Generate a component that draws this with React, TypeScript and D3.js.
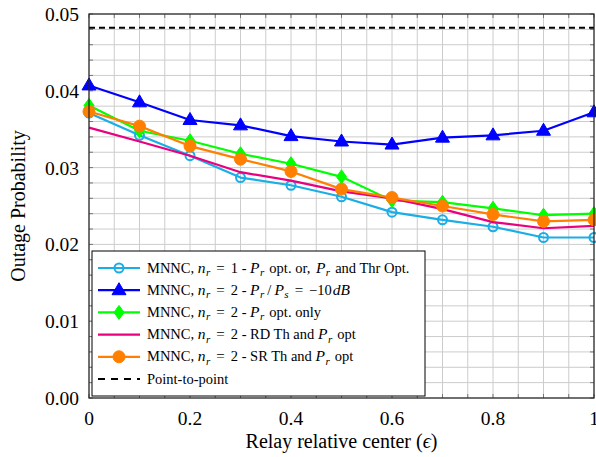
import React from "react";
import * as d3 from "d3";

const xs = [0, 0.1, 0.2, 0.3, 0.4, 0.5, 0.6, 0.7, 0.8, 0.9, 1.0];
const nr1PrOpt = [0.0371, 0.0342, 0.03155, 0.0287, 0.0277, 0.0262, 0.0242, 0.0232, 0.0223, 0.0209, 0.0209];
const nr2Fixed = [0.0407, 0.0385, 0.0362, 0.0355, 0.0341, 0.0334, 0.0330, 0.0339, 0.0342, 0.0348, 0.0372];
const nr2PrOnly = [0.0381, 0.0348, 0.0335, 0.0318, 0.0305, 0.0288, 0.0257, 0.0255, 0.0247, 0.0238, 0.0240];
const nr2RD = [0.0352, 0.0334, 0.03155, 0.0294, 0.0283, 0.0269, 0.0260, 0.0246, 0.0229, 0.0221, 0.0224];
const nr2SR = [0.0373, 0.0354, 0.0328, 0.0311, 0.0295, 0.0272, 0.0261, 0.0250, 0.0239, 0.0230, 0.0232];
const p2p = 0.0482;

const xTicks = [0, 0.2, 0.4, 0.6, 0.8, 1];
const yTicks = [0, 0.01, 0.02, 0.03, 0.04, 0.05];

const W = 596, H = 457;
const L = 89, T = 14, R = 594, B = 398;
const FONT = "'Liberation Serif', 'DejaVu Serif', serif";

type Series = { name: string; values: number[]; color: string; marker: string };

const series: Series[] = [
  { name: "s1", values: nr1PrOpt, color: "#1aaee6", marker: "circleOpen" },
  { name: "s2", values: nr2Fixed, color: "#0000ff", marker: "triangle" },
  { name: "s3", values: nr2PrOnly, color: "#00ff00", marker: "diamond" },
  { name: "s4", values: nr2RD, color: "#e8007f", marker: "none" },
  { name: "s5", values: nr2SR, color: "#ff8000", marker: "circle" },
];

function Marker({ type, x, y, color }: { type: string; x: number; y: number; color: string }) {
  if (type === "circleOpen") return <circle cx={x} cy={y} r={4.5} fill="none" stroke={color} strokeWidth={2} />;
  if (type === "circle") return <circle cx={x} cy={y} r={6} fill={color} stroke={color} strokeWidth={1} />;
  if (type === "triangle")
    return <path d={`M${x},${y - 7.5} L${x + 7},${y + 4.5} L${x - 7},${y + 4.5} Z`} fill={color} stroke={color} strokeWidth={1} />;
  if (type === "diamond")
    return <path d={`M${x},${y - 7} L${x + 5},${y} L${x},${y + 7} L${x - 5},${y} Z`} fill={color} stroke={color} strokeWidth={1} />;
  return null;
}

// legend segments: k = "t" text, "m" math italic, "s" subscript, "e" equals
type Seg = { k: string; s: string; dx?: number };
const nEq = (v: string): Seg[] => [
  { k: "t", s: "MNNC, " },
  { k: "m", s: "n" },
  { k: "s", s: "r" },
  { k: "e", s: "=", dx: 6 },
  { k: "t", s: v, dx: 6 },
];
const legendLabels: Seg[][] = [
  [...nEq("1"), { k: "t", s: " - " }, { k: "m", s: "P" }, { k: "s", s: "r" }, { k: "t", s: "opt. or, ", dx: 5 }, { k: "m", s: "P", dx: 2 }, { k: "s", s: "r" }, { k: "t", s: "and Thr Opt.", dx: 5 }],
  [...nEq("2"), { k: "t", s: " - " }, { k: "m", s: "P" }, { k: "s", s: "r" }, { k: "t", s: "/", dx: 3 }, { k: "m", s: "P", dx: 3 }, { k: "s", s: "s" }, { k: "e", s: "=", dx: 6 }, { k: "t", s: "−10", dx: 6 }, { k: "m", s: "dB", dx: 1 }],
  [...nEq("2"), { k: "t", s: " - " }, { k: "m", s: "P" }, { k: "s", s: "r" }, { k: "t", s: "opt. only", dx: 5 }],
  [...nEq("2"), { k: "t", s: " - RD Th and " }, { k: "m", s: "P" }, { k: "s", s: "r" }, { k: "t", s: "opt", dx: 5 }],
  [...nEq("2"), { k: "t", s: " - SR Th and " }, { k: "m", s: "P" }, { k: "s", s: "r" }, { k: "t", s: "opt", dx: 5 }],
  [{ k: "t", s: "Point-to-point" }],
];

function renderSegs(segs: Seg[]) {
  let prevSub = false;
  return segs.map((sg, i) => {
    const isSub = sg.k === "s";
    const dy = isSub ? 3.5 : prevSub ? -3.5 : 0;
    prevSub = isSub;
    const props: any = { key: i, dx: sg.dx || 0, dy };
    if (sg.k === "m") {
      props.fontStyle = "italic";
      props.fontSize = 15.5;
    } else if (sg.k === "s") {
      props.fontStyle = "italic";
      props.fontSize = 11;
      props.dx = 0.5;
    } else if (sg.k === "e") {
      props.fontSize = 15;
    }
    return <tspan {...props}>{sg.s}</tspan>;
  });
}

export default function App() {
  const x = d3.scaleLinear().domain([0, 1]).range([L, R]);
  const y = d3.scaleLinear().domain([0, 0.05]).range([B, T]);
  const xGrid = d3.range(0, 1.0001, 0.05);
  const yGrid = d3.range(0, 0.05001, 0.002);
  const line = d3.line<number>().x((_, i) => x(xs[i])).y((v) => y(v));

  const legX = 92, legY = 251, legW = 333, legH = 145;
  const rowH = 22.2;

  return (
    <svg width={W} height={H} style={{ position: "absolute", left: 0, top: 0 }} fontFamily={FONT}>
      <rect x={0} y={0} width={W} height={H} fill="white" />
      {xGrid.map((g, i) => (
        <line key={"gx" + i} x1={x(g)} x2={x(g)} y1={T} y2={B} stroke="#cccccc" strokeWidth={1} />
      ))}
      {yGrid.map((g, i) => (
        <line key={"gy" + i} x1={L} x2={R} y1={y(g)} y2={y(g)} stroke="#cccccc" strokeWidth={1} />
      ))}
      {xGrid.map((g, i) => (
        <g key={"tx" + i}>
          <line x1={x(g)} x2={x(g)} y1={B} y2={B - 4} stroke="#777" strokeWidth={1} />
          <line x1={x(g)} x2={x(g)} y1={T} y2={T + 4} stroke="#777" strokeWidth={1} />
        </g>
      ))}
      {yGrid.map((g, i) => (
        <g key={"ty" + i}>
          <line x1={L} x2={L + 4} y1={y(g)} y2={y(g)} stroke="#777" strokeWidth={1} />
          <line x1={R} x2={R - 4} y1={y(g)} y2={y(g)} stroke="#777" strokeWidth={1} />
        </g>
      ))}
      <line x1={L} x2={R} y1={y(p2p)} y2={y(p2p)} stroke="black" strokeWidth={2} strokeDasharray="6,4" />
      {series.map((s) => (
        <g key={s.name}>
          <path d={line(s.values) || ""} fill="none" stroke={s.color} strokeWidth={2.2} strokeLinejoin="round" />
          {s.values.map((v, i) => (
            <Marker key={i} type={s.marker} x={x(xs[i])} y={y(v)} color={s.color} />
          ))}
        </g>
      ))}
      <rect x={L} y={T} width={R - L} height={B - T} fill="none" stroke="#222" strokeWidth={1.2} />
      {xTicks.map((t) => (
        <text key={"xl" + t} x={x(t)} y={B + 27} textAnchor="middle" fontSize={19.5}>
          {t === 0 || t === 1 ? String(t) : d3.format(".1f")(t)}
        </text>
      ))}
      {yTicks.map((t) => (
        <text key={"yl" + t} x={L - 10} y={y(t) + 7} textAnchor="end" fontSize={19.5}>
          {d3.format(".2f")(t)}
        </text>
      ))}
      <text x={(L + R) / 2} y={448} textAnchor="middle" fontSize={20}>
        Relay relative center (<tspan fontStyle="italic">ϵ</tspan>)
      </text>
      <text transform={`translate(25,${(T + B) / 2}) rotate(-90)`} textAnchor="middle" fontSize={20}>
        Outage Probability
      </text>
      <rect x={legX} y={legY} width={legW} height={legH} fill="white" stroke="black" strokeWidth={1} />
      {legendLabels.map((lab, i) => {
        const cy = legY + 17 + i * rowH;
        const s = series[i];
        return (
          <g key={"lg" + i}>
            {s ? (
              <>
                <line x1={legX + 6} x2={legX + 48} y1={cy} y2={cy} stroke={s.color} strokeWidth={2.2} />
                <Marker type={s.marker} x={legX + 27} y={cy} color={s.color} />
              </>
            ) : (
              <line x1={legX + 6} x2={legX + 48} y1={cy} y2={cy} stroke="black" strokeWidth={2} strokeDasharray="7,6" />
            )}
            <text x={legX + 55} y={cy + 4.5} fontSize={14.5}>
              {renderSegs(lab)}
            </text>
          </g>
        );
      })}
    </svg>
  );
}
